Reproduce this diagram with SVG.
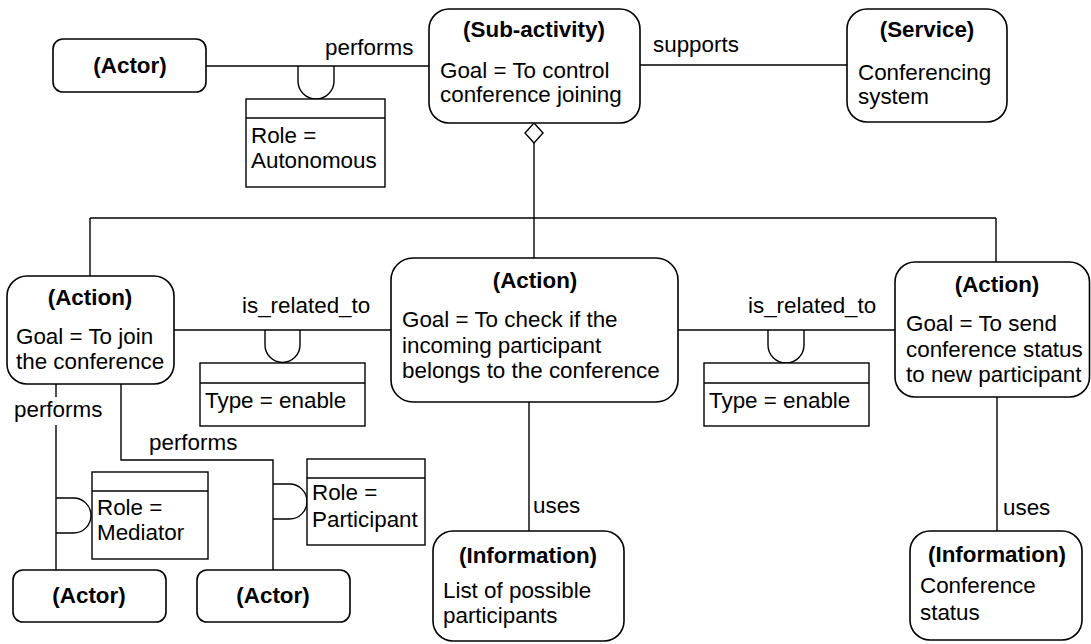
<svg xmlns="http://www.w3.org/2000/svg" width="1091" height="644" viewBox="0 0 1091 644">
  <style>
    text { font-family: "Liberation Sans", Arial, sans-serif; font-size: 22.4px; fill: #000; }
    .title { font-weight: bold; text-anchor: middle; }
    .node { fill: #fff; stroke: #000; stroke-width: 1.6; }
    .attr { fill: #fff; stroke: #000; stroke-width: 1.4; }
    .line { fill: none; stroke: #000; stroke-width: 1.4; }
  </style>

  <rect width="1091" height="644" fill="#fff"/>

  <!-- connectors -->
  <g id="connectors">
    <!-- Actor performs Sub-activity -->
    <line class="line" x1="206" y1="66" x2="429" y2="66"/>
    <path class="line" d="M298,66 V81 A18,18 0 0 0 334,81 V66"/>
    <!-- Sub-activity supports Service -->
    <line class="line" x1="640" y1="65" x2="847" y2="65"/>
    <!-- aggregation tree -->
    <polygon class="line" points="534,123 543,133 534,143 525,133" fill="#fff"/>
    <line class="line" x1="534" y1="143" x2="534" y2="258"/>
    <line class="line" x1="90" y1="218" x2="996" y2="218"/>
    <line class="line" x1="90" y1="218" x2="90" y2="276"/>
    <line class="line" x1="996" y1="218" x2="996" y2="262"/>
    <!-- is_related_to (left) -->
    <line class="line" x1="174" y1="330" x2="391" y2="330"/>
    <path class="line" d="M265,330 V345 A17.5,17.5 0 0 0 300,345 V330"/>
    <!-- is_related_to (right) -->
    <line class="line" x1="678" y1="330" x2="895" y2="330"/>
    <path class="line" d="M768,330 V345 A18,18 0 0 0 804,345 V330"/>
    <!-- performs (Mediator) -->
    <line class="line" x1="56" y1="384" x2="56" y2="397"/>
    <line class="line" x1="56" y1="425" x2="56" y2="570"/>
    <path class="line" d="M56,498 H73.5 A17.5,17.5 0 0 1 73.5,533 H56"/>
    <!-- performs (Participant) -->
    <polyline class="line" points="121,384 121,460 273,460 273,570"/>
    <path class="line" d="M273,484 H289.5 A17.5,17.5 0 0 1 289.5,519 H273"/>
    <!-- uses -->
    <line class="line" x1="529" y1="402" x2="529" y2="531"/>
    <line class="line" x1="997" y1="397" x2="997" y2="531"/>
    <!-- connector labels -->
    <text x="325" y="55">performs</text>
    <text x="653" y="52">supports</text>
    <text x="242" y="313">is_related_to</text>
    <text x="748" y="313">is_related_to</text>
    <text x="14" y="417">performs</text>
    <text x="149" y="450">performs</text>
    <text x="533" y="513">uses</text>
    <text x="1003" y="515">uses</text>
  </g>

  <!-- attribute boxes on associations -->
  <g id="role-autonomous">
    <rect class="attr" x="246" y="99" width="139" height="88"/>
    <line class="attr" x1="246" y1="118" x2="385" y2="118"/>
    <text x="251" y="143">Role =</text>
    <text x="251" y="168">Autonomous</text>
  </g>
  <g id="type-enable-left">
    <rect class="attr" x="200" y="363" width="165" height="63"/>
    <line class="attr" x1="200" y1="383" x2="365" y2="383"/>
    <text x="205" y="408">Type = enable</text>
  </g>
  <g id="type-enable-right">
    <rect class="attr" x="704" y="363" width="165" height="63"/>
    <line class="attr" x1="704" y1="383" x2="869" y2="383"/>
    <text x="709" y="408">Type = enable</text>
  </g>
  <g id="role-mediator">
    <rect class="attr" x="92" y="472" width="116" height="87"/>
    <line class="attr" x1="92" y1="491" x2="208" y2="491"/>
    <text x="97" y="515">Role =</text>
    <text x="97" y="540">Mediator</text>
  </g>
  <g id="role-participant">
    <rect class="attr" x="307" y="459" width="118" height="86"/>
    <line class="attr" x1="307" y1="478" x2="425" y2="478"/>
    <text x="312" y="500">Role =</text>
    <text x="312" y="527">Participant</text>
  </g>

  <!-- nodes -->
  <g id="actor-top">
    <rect class="node" x="53" y="39" width="153" height="53" rx="10"/>
    <text class="title" x="130" y="73">(Actor)</text>
  </g>
  <g id="sub-activity">
    <rect class="node" x="429" y="9" width="211" height="114" rx="20"/>
    <text class="title" x="534" y="37">(Sub-activity)</text>
    <text x="440" y="78">Goal = To control</text>
    <text x="440" y="102">conference joining</text>
  </g>
  <g id="service">
    <rect class="node" x="847" y="9" width="160" height="113" rx="20"/>
    <text class="title" x="927" y="37">(Service)</text>
    <text x="858" y="80">Conferencing</text>
    <text x="858" y="104">system</text>
  </g>
  <g id="action-join">
    <rect class="node" x="7" y="276" width="167" height="108" rx="20"/>
    <text class="title" x="90" y="305">(Action)</text>
    <text x="16" y="344">Goal = To join</text>
    <text x="16" y="369">the conference</text>
  </g>
  <g id="action-check">
    <rect class="node" x="391" y="258" width="287" height="144" rx="22"/>
    <text class="title" x="535" y="288">(Action)</text>
    <text x="402" y="327">Goal = To check if the</text>
    <text x="402" y="353">incoming participant</text>
    <text x="402" y="378">belongs to the conference</text>
  </g>
  <g id="action-send">
    <rect class="node" x="895" y="262" width="194.5" height="135" rx="20"/>
    <text class="title" x="997" y="292">(Action)</text>
    <text x="906" y="331">Goal = To send</text>
    <text x="906" y="357">conference status</text>
    <text x="906" y="382">to new participant</text>
  </g>
  <g id="actor-mediator">
    <rect class="node" x="13" y="570" width="153" height="52" rx="10"/>
    <text class="title" x="89" y="603">(Actor)</text>
  </g>
  <g id="actor-participant">
    <rect class="node" x="197" y="570" width="153" height="52" rx="10"/>
    <text class="title" x="273" y="603">(Actor)</text>
  </g>
  <g id="info-participants">
    <rect class="node" x="433" y="531" width="191" height="110" rx="20"/>
    <text class="title" x="528" y="563">(Information)</text>
    <text x="443" y="598">List of possible</text>
    <text x="443" y="623">participants</text>
  </g>
  <g id="info-status">
    <rect class="node" x="910" y="531" width="172" height="109" rx="20"/>
    <text class="title" x="997" y="562">(Information)</text>
    <text x="920" y="593">Conference</text>
    <text x="920" y="620">status</text>
  </g>
</svg>
